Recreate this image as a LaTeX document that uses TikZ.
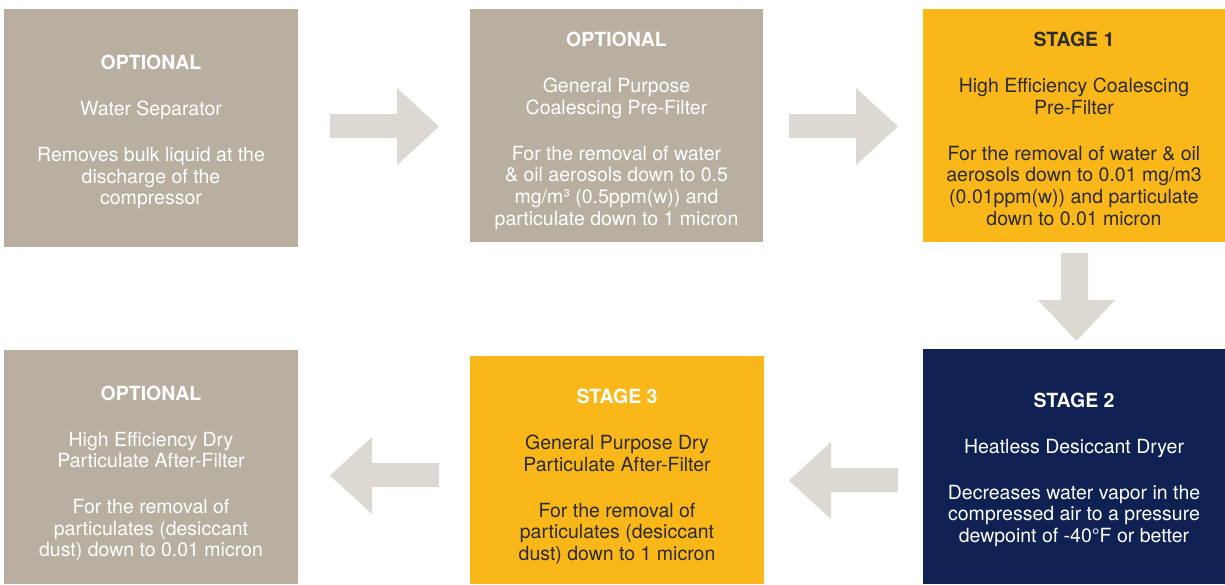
\documentclass[tikz,border=0pt]{standalone}
\usepackage{fontspec}
\setmainfont{TeX Gyre Heros}
\definecolor{boxgray}{HTML}{B8AFA1}
\definecolor{arrowgray}{HTML}{DCD8D2}
\definecolor{stageyellow}{HTML}{FAB719}
\definecolor{stagenavy}{HTML}{0E2152}
\definecolor{darktext}{HTML}{2B2B2B}
\tikzset{
  stagebox/.style={inner sep=0pt, align=center, font=\fontsize{19.5}{21.6}\selectfont},
  graybox/.style={stagebox, fill=boxgray, text=white},
  yellowbox/.style={stagebox, fill=stageyellow, text=darktext},
  navybox/.style={stagebox, fill=stagenavy, text=white},
  flowarrow/.style={fill=arrowgray, draw=none}
}
\newcommand{\gap}{\\[24.4pt]}
\newcommand{\topstrut}[1][21pt]{\rule{0pt}{#1}}
\begin{document}
\begin{tikzpicture}[x=1pt,y=-1pt]
\useasboundingbox (0,0) rectangle (1225,584);
% boxes
\node[graybox, minimum width=294pt, minimum height=238pt] (b1) at (151,128)
  {\topstrut[23pt]\textbf{OPTIONAL}\gap Water Separator\gap Removes bulk liquid at the\\discharge of the\\compressor};
\node[graybox, minimum width=293pt, minimum height=233pt] (b2) at (616.5,125.5)
  {\topstrut[25pt]\textbf{OPTIONAL}\gap General Purpose\\Coalescing Pre-Filter\gap For the removal of water\\\& oil aerosols down to 0.5\\mg/m³ (0.5ppm(w)) and\\particulate down to 1 micron};
\node[yellowbox, minimum width=302pt, minimum height=233pt] (b3) at (1074,125.5)
  {\topstrut\textbf{STAGE 1}\gap High Efficiency Coalescing\\Pre-Filter\gap For the removal of water \& oil\\aerosols down to 0.01 mg/m3\\(0.01ppm(w)) and particulate\\down to 0.01 micron};
\node[navybox, minimum width=302pt, minimum height=235pt] (b6) at (1074,466.5)
  {\topstrut\textbf{STAGE 2}\gap Heatless Desiccant Dryer\gap Decreases water vapor in the\\compressed air to a pressure\\dewpoint of -40°F or better};
\node[yellowbox, minimum width=294pt, minimum height=228pt] (b5) at (617,470)
  {\topstrut[28pt]\textcolor{white}{\textbf{STAGE 3}}\gap General Purpose Dry\\Particulate After-Filter\gap For the removal of\\particulates (desiccant\\dust) down to 1 micron};
\node[graybox, minimum width=294pt, minimum height=234pt] (b4) at (151,467)
  {\topstrut[27pt]\textbf{OPTIONAL}\gap High Efficiency Dry\\Particulate After-Filter\gap For the removal of\\particulates (desiccant\\dust) down to 0.01 micron};
% arrows
\fill[flowarrow] (330,114) -- (397,114) -- (397,88) -- (439,126.5) -- (397,165) -- (397,138) -- (330,138) -- cycle;
\fill[flowarrow] (789,114) -- (856,114) -- (856,88) -- (898,126.5) -- (856,165) -- (856,138) -- (789,138) -- cycle;
\fill[flowarrow] (1061,253) -- (1088,253) -- (1088,300) -- (1115,300) -- (1076.5,341) -- (1038,300) -- (1061,300) -- cycle;
\fill[flowarrow] (898,468) -- (831,468) -- (831,442) -- (789,480.5) -- (831,519) -- (831,492) -- (898,492) -- cycle;
\fill[flowarrow] (439,463) -- (372,463) -- (372,437) -- (330,475.5) -- (372,514) -- (372,487) -- (439,487) -- cycle;
\end{tikzpicture}
\end{document}
